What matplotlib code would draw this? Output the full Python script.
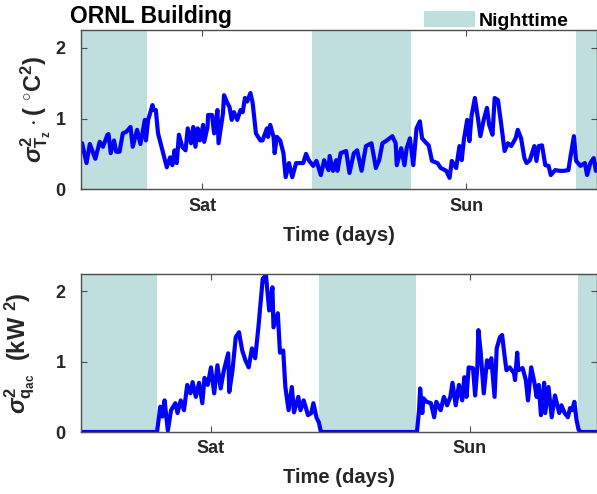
import matplotlib
matplotlib.use('Agg')
import matplotlib.pyplot as plt
from matplotlib.patches import Patch

# hours relative to Saturday 00:00, variance values
temp_hours = [-11.0, -10.9, -10.5, -10.2, -9.7, -9.3, -9.0, -8.6, -8.5, -8.3, -8.0, -7.8, -7.5,
              -7.2, -6.9, -6.5, -6.3, -5.9, -5.6, -5.2, -5.1, -4.9, -4.5, -4.4, -4.2, -4.0,
              -3.6, -3.2, -2.9, -2.7, -2.5, -2.3, -2.1, -1.8, -1.5, -1.3, -1.0, -0.8, -0.6,
              -0.4, -0.2, 0.1, 0.2, 0.5, 0.55, 0.9, 1.1, 1.4, 1.5, 1.9, 2.0, 2.3, 2.5, 2.7,
              2.9, 3.2, 3.5, 3.7, 3.9, 4.1, 4.4, 4.6, 4.9, 5.3, 5.5, 5.9, 6.0, 6.2, 6.5, 6.6,
              6.8, 7.1, 7.4, 7.6, 7.9, 8.2, 8.55, 9.2, 9.45, 9.7, 10.1, 10.4, 10.8, 11.1,
              11.5, 11.6, 11.9, 12.2, 12.3, 12.6, 13.1, 13.4, 13.8, 14.1, 14.5, 14.9, 15.4,
              15.8, 16.1, 16.4, 16.8, 17.3, 17.6, 17.7, 18.1, 18.4, 18.6, 18.9, 19.2, 19.5,
              19.8, 20.0, 20.4, 20.6, 20.9, 21.4, 21.7, 22.2, 22.5, 22.7, 23.1, 23.4, 23.6,
              23.8, 24.1, 24.3, 24.5, 24.8, 25.1, 25.3, 25.6, 25.9, 26.1, 26.4, 26.6, 26.9,
              27.2, 27.5, 27.8, 28.1, 28.5, 28.7, 29.0, 29.3, 29.5, 29.8, 30.2, 30.4, 30.6,
              30.9, 31.2, 31.5, 31.7, 32.1, 32.5, 32.9, 33.3, 33.5, 33.8, 34.0, 34.4, 34.8,
              35.0, 35.3, 35.6, 35.8, 36.0]
temp_var = [0.62, 0.65, 0.37, 0.64, 0.43, 0.67, 0.60, 0.77, 0.78, 0.51, 0.69, 0.53, 0.53,
            0.79, 0.81, 0.88, 0.60, 0.84, 0.64, 0.98, 0.69, 0.98, 1.19, 1.12, 1.12, 0.79,
            0.55, 0.31, 0.45, 0.34, 0.55, 0.37, 0.77, 0.60, 0.55, 0.86, 0.65, 0.88, 0.60,
            0.86, 0.69, 0.91, 0.67, 0.88, 1.05, 1.05, 0.79, 1.12, 0.65, 1.07, 1.33, 1.22,
            1.16, 0.98, 1.09, 0.98, 1.12, 1.09, 1.29, 1.24, 1.36, 1.22, 0.79, 0.69, 0.69,
            0.86, 0.74, 0.91, 0.74, 0.51, 0.74, 0.69, 0.51, 0.17, 0.37, 0.17, 0.37, 0.37,
            0.50, 0.41, 0.33, 0.40, 0.20, 0.41, 0.27, 0.47, 0.26, 0.41, 0.26, 0.51, 0.54,
            0.23, 0.51, 0.55, 0.26, 0.61, 0.65, 0.30, 0.41, 0.65, 0.69, 0.75, 0.65, 0.34,
            0.58, 0.34, 0.58, 0.72, 0.34, 0.86, 0.96, 0.72, 0.65, 0.62, 0.40, 0.37, 0.30,
            0.26, 0.16, 0.40, 0.30, 0.61, 0.41, 0.70, 0.98, 0.68, 1.04, 1.29, 0.98, 0.75,
            0.98, 1.15, 0.91, 0.77, 1.29, 1.26, 0.91, 0.54, 0.65, 0.61, 0.72, 0.84, 0.72,
            0.44, 0.37, 0.41, 0.61, 0.40, 0.61, 0.62, 0.34, 0.33, 0.20, 0.27, 0.26, 0.26,
            0.27, 0.47, 0.75, 0.40, 0.33, 0.37, 0.20, 0.37, 0.44, 0.26, 0.35]

power_hours = [-12.0, -5.0, -4.7, -4.5, -4.3, -4.0, -3.7, -3.3, -3.1, -2.8, -2.5, -2.2, -1.9,
               -1.7, -1.4, -1.1, -0.8, -0.6, -0.3, 0.0, 0.3, 0.6, 0.9, 1.2, 1.6, 1.7, 2.0,
               2.3, 2.6, 2.9, 3.2, 3.5, 3.8, 4.1, 4.4, 4.8, 5.1, 5.4, 5.7, 5.8, 6.2, 6.4,
               6.7, 6.9, 7.2, 7.5, 7.7, 8.1, 8.3, 8.6, 9.0, 9.3, 9.5, 9.8, 10.0, 10.2,
               19.1, 19.3, 19.4, 19.6, 19.7, 20.0, 20.4, 20.7, 20.9, 21.3, 21.6, 21.9, 22.2,
               22.4, 22.7, 23.0, 23.3, 23.5, 23.7, 23.9, 24.3, 24.5, 24.7, 24.8, 25.0, 25.3,
               25.6, 25.8, 26.0, 26.3, 26.5, 26.8, 27.0, 27.2, 27.4, 27.7, 28.1, 28.2, 28.4,
               28.5, 28.9, 29.2, 29.4, 29.7, 30.0, 30.2, 30.4, 30.6, 30.9, 31.0, 31.3, 31.6,
               31.9, 32.3, 32.5, 32.8, 33.1, 33.3, 33.5, 33.7, 33.9, 34.1, 34.3, 36.0]
power_var = [0.0, 0.0, 0.36, 0.22, 0.45, 0.02, 0.31, 0.41, 0.27, 0.45, 0.31, 0.67, 0.55,
             0.71, 0.50, 0.70, 0.41, 0.77, 0.67, 0.92, 0.55, 0.95, 0.62, 0.88, 1.12, 0.57,
             0.88, 1.35, 1.42, 1.16, 1.02, 0.92, 1.19, 1.05, 1.49, 2.18, 2.23, 1.73, 2.06,
             1.49, 1.69, 1.13, 1.16, 0.64, 0.31, 0.64, 0.28, 0.50, 0.31, 0.45, 0.24, 0.27,
             0.41, 0.20, 0.14, 0.0,
             0.0, 0.31, 0.62, 0.27, 0.48, 0.43, 0.41, 0.21, 0.43, 0.31, 0.50, 0.38, 0.50,
             0.70, 0.38, 0.67, 0.45, 0.78, 0.50, 0.92, 0.91, 0.52, 0.92, 1.45, 1.16, 0.55,
             1.02, 0.92, 1.05, 0.50, 1.19, 1.35, 1.38, 1.12, 0.88, 0.92, 0.84, 0.74, 1.13,
             0.88, 0.91, 0.74, 0.45, 0.92, 0.70, 0.50, 0.67, 0.24, 0.70, 0.27, 0.64, 0.21,
             0.52, 0.27, 0.38, 0.27, 0.21, 0.34, 0.31, 0.43, 0.17, 0.03, 0.0, 0.0]

night_start = [-14, 10, 34]
night_end = [-5, 19, 43]
day_ticks = [0, 1]
day_labels = ['Sat', 'Sun']

plt.rcParams['font.family'] = ['Liberation Sans', 'DejaVu Sans']
plt.rcParams['font.weight'] = 'bold'
plt.rcParams['axes.labelweight'] = 'bold'
plt.rcParams['mathtext.fontset'] = 'custom'
plt.rcParams['mathtext.rm'] = 'Liberation Sans:bold'
plt.rcParams['mathtext.it'] = 'Liberation Sans:italic:bold'
plt.rcParams['mathtext.bf'] = 'Liberation Sans:bold'

night_color = '#bfdfdf'
line_color = '#0000ff'
text_color = '#262626'
axis_color = '#4d4d4d'

fig = plt.figure(figsize=(5.97, 4.94), dpi=100)
ax1 = fig.add_axes([0.1357, 0.617, 0.8643, 0.322])
ax2 = fig.add_axes([0.1357, 0.1255, 0.8643, 0.32])


def style_axis(ax, xlim):
    ax.set_xlim(xlim[0] / 24, xlim[1] / 24)
    ax.set_ylim(0, 2.25)
    ax.set_yticks([0, 1, 2])
    ax.set_xticks(day_ticks)
    ax.set_xticklabels(day_labels)
    ax.tick_params(direction='in', length=4, width=0.8, colors=axis_color,
                   labelcolor=text_color, labelsize=13, top=True, right=True)
    ax.tick_params(axis='y', pad=11)
    ax.tick_params(axis='x', pad=6)
    for s in ax.spines.values():
        s.set_color(axis_color)
        s.set_linewidth(1.0)
    ax.set_xlabel('Time (days)', fontsize=14.5, color=text_color, labelpad=8)


for ax in (ax1, ax2):
    for a, b in zip(night_start, night_end):
        ax.axvspan(a / 24, b / 24, color=night_color, lw=0, zorder=0)

ax1.plot([h / 24 for h in temp_hours], temp_var, color=line_color, lw=3.0, zorder=2)
ax2.plot([h / 24 for h in power_hours], power_var, color=line_color, lw=3.0, zorder=2)

style_axis(ax1, (-11.0, 35.9))
style_axis(ax2, (-12.05, 35.8))

ax1.set_ylabel(r'$\sigma^2_{\mathrm{T_z}}\cdot$( $^{\circ}$C$^2$)', fontsize=17, color=text_color)
ax2.set_ylabel(r'$\sigma^2_{\mathrm{q_{ac}}}$  (kW $^2$)', fontsize=17, color=text_color)
ax1.yaxis.set_label_coords(-0.055, 0.5)
ax2.yaxis.set_label_coords(-0.085, 0.5)

fig.text(70 / 597, 1 - 17 / 494, 'ORNL Building', fontsize=16.5, fontweight='bold',
         va='center', ha='left', color='black')

fig.legend(handles=[Patch(facecolor=night_color, edgecolor='none', label='Nighttime')],
           loc='lower left', bbox_to_anchor=(424 / 597, 1 - 30 / 494), frameon=False,
           borderpad=0, borderaxespad=0, handlelength=2.6, handleheight=0.9,
           handletextpad=0.2, fontsize=14)

fig.savefig('out.png', dpi=100)
